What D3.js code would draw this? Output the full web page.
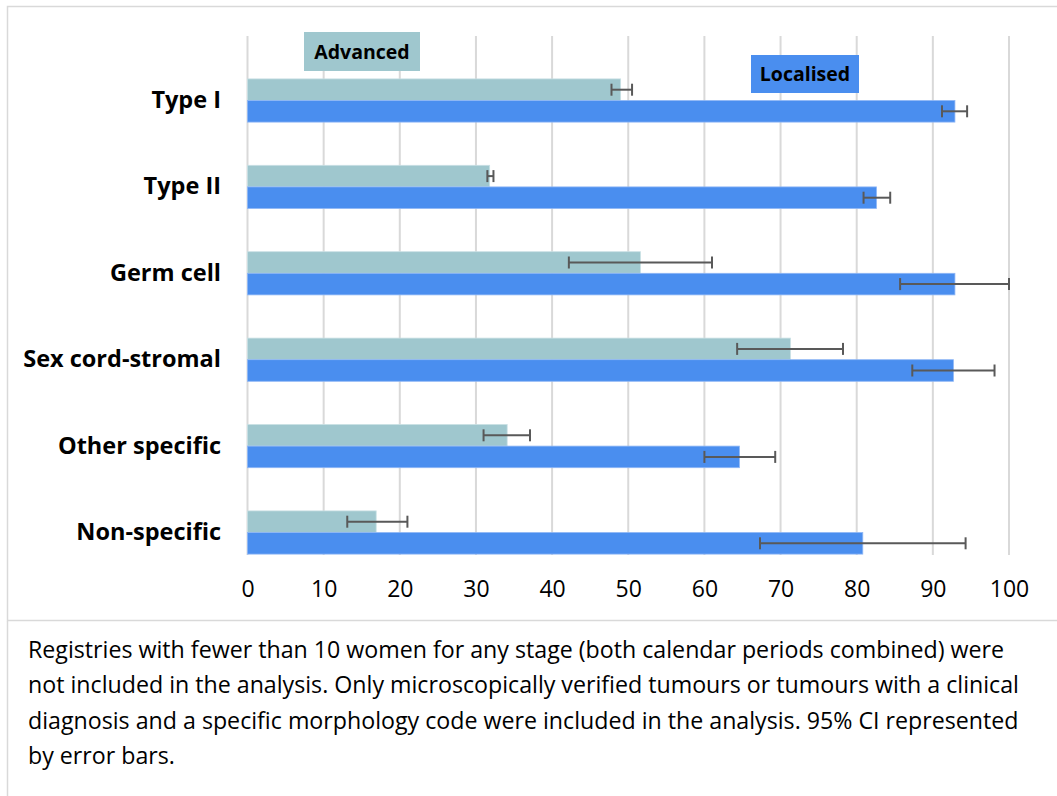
<!DOCTYPE html>
<html>
<head>
<meta charset="utf-8">
<script src="https://cdn.jsdelivr.net/npm/d3@7"></script>
<style>
  html, body { margin: 0; padding: 0; background: #fff; }
  svg { display: block; }
</style>
</head>
<body>
<svg id="chart" width="1057" height="796"></svg>
<script>
const categories = ["Type I", "Type II", "Germ cell", "Sex cord-stromal", "Other specific", "Non-specific"];
const seriesNames = ["Advanced", "Localised"];
const advanced = [49.0, 31.8, 51.6, 71.3, 34.1, 16.9];
const advancedLow = [47.8, 31.5, 42.2, 64.3, 31.0, 13.1];
const advancedHigh = [50.5, 32.3, 61.0, 78.2, 37.1, 21.0];
const localised = [92.9, 82.6, 92.9, 92.7, 64.6, 80.8];
const localisedLow = [91.2, 80.9, 85.7, 87.3, 60.0, 67.3];
const localisedHigh = [94.5, 84.4, 100.0, 98.1, 69.3, 94.3];
const xTicks = [0, 10, 20, 30, 40, 50, 60, 70, 80, 90, 100];
const captionLines = [
  "Registries with fewer than 10 women for any stage (both calendar periods combined) were",
  "not included in the analysis. Only microscopically verified tumours or tumours with a clinical",
  "diagnosis and a specific morphology code were included in the analysis. 95% CI represented",
  "by error bars."
];

const colors = { Advanced: "#9fc7ce", Localised: "#4a8eef" };
const font = "'Open Sans', 'DejaVu Sans', sans-serif";

const svg = d3.select("#chart");

// frame
svg.append("rect").attr("x", 7.5).attr("y", 6.5).attr("width", 1060).attr("height", 614)
  .attr("fill", "none").attr("stroke", "#d9d9d9").attr("stroke-width", 1.5);
svg.append("line").attr("x1", 7.5).attr("x2", 7.5).attr("y1", 621).attr("y2", 796)
  .attr("stroke", "#d9d9d9").attr("stroke-width", 1.5);

const x = d3.scaleLinear().domain([0, 100]).range([247.5, 1009]);
const y = d3.scaleBand().domain(categories).range([57.3, 575.7]).paddingInner(0.5).paddingOuter(0.25);
const ySub = d3.scaleBand().domain(seriesNames).range([0, y.bandwidth()]);

const gridTop = 36, gridBottom = 555;

// gridlines
svg.append("g").selectAll("line").data(xTicks).join("line")
  .attr("x1", d => x(d)).attr("x2", d => x(d))
  .attr("y1", gridTop).attr("y2", gridBottom)
  .attr("stroke", "#d9d9d9").attr("stroke-width", 2);

// x axis labels
const xAxis = d3.axisBottom(x).tickValues(xTicks).tickSize(0).tickPadding(0);
const gx = svg.append("g").attr("transform", `translate(0, 581)`).call(xAxis);
gx.select(".domain").remove();
gx.selectAll("text").attr("font-family", font).attr("font-size", 23).attr("fill", "#000").attr("dy", "0.71em");

// y axis labels
const yAxis = d3.axisLeft(y).tickSize(0).tickPadding(0);
const gy = svg.append("g").attr("transform", `translate(221, 0)`).call(yAxis);
gy.select(".domain").remove();
gy.selectAll("text").attr("font-family", font).attr("font-size", 23.5).attr("font-weight", "bold").attr("fill", "#000");

// bars
const rows = categories.map((c, i) => ({
  cat: c,
  vals: [
    { s: "Advanced", v: advanced[i], lo: advancedLow[i], hi: advancedHigh[i] },
    { s: "Localised", v: localised[i], lo: localisedLow[i], hi: localisedHigh[i] }
  ]
}));

const groups = svg.append("g").selectAll("g").data(rows).join("g")
  .attr("transform", d => `translate(0, ${y(d.cat)})`);

groups.selectAll("rect").data(d => d.vals).join("rect")
  .attr("x", x(0)).attr("y", d => ySub(d.s))
  .attr("width", d => x(d.v) - x(0)).attr("height", ySub.bandwidth())
  .attr("fill", d => colors[d.s])
  .attr("stroke", d => d.s === "Advanced" ? "#c9e0e4" : "#8fb7f5").attr("stroke-width", 0.8);

// error bars
const eb = groups.selectAll("g.err").data(d => d.vals).join("g").attr("class", "err")
  .attr("transform", d => `translate(0, ${ySub(d.s) + ySub.bandwidth() / 2})`);
eb.append("line").attr("x1", d => x(d.lo)).attr("x2", d => x(d.hi)).attr("y1", 0).attr("y2", 0)
  .attr("stroke", "#595959").attr("stroke-width", 2);
eb.append("line").attr("x1", d => x(d.lo)).attr("x2", d => x(d.lo)).attr("y1", -6).attr("y2", 6)
  .attr("stroke", "#595959").attr("stroke-width", 2);
eb.append("line").attr("x1", d => x(d.hi)).attr("x2", d => x(d.hi)).attr("y1", -6).attr("y2", 6)
  .attr("stroke", "#595959").attr("stroke-width", 2);

// legend labels (boxed)
const legendBoxes = [
  { s: "Advanced", x0: 304, y0: 32, w: 116, h: 39 },
  { s: "Localised", x0: 751, y0: 55, w: 108, h: 38 }
];
const lg = svg.append("g").selectAll("g").data(legendBoxes).join("g");
lg.append("rect").attr("x", d => d.x0).attr("y", d => d.y0).attr("width", d => d.w).attr("height", d => d.h)
  .attr("fill", d => colors[d.s]);
lg.append("text").attr("x", d => d.x0 + d.w / 2).attr("y", d => d.y0 + d.h / 2)
  .attr("dy", "0.36em").attr("text-anchor", "middle")
  .attr("font-family", font).attr("font-size", 19.5).attr("font-weight", "bold").attr("fill", "#000")
  .text(d => d.s);

// caption
svg.append("g").selectAll("text").data(captionLines).join("text")
  .attr("x", 28).attr("y", (d, i) => 658 + i * 35.3)
  .attr("font-family", font).attr("font-size", 23.2).attr("fill", "#000")
  .text(d => d);
</script>
</body>
</html>
